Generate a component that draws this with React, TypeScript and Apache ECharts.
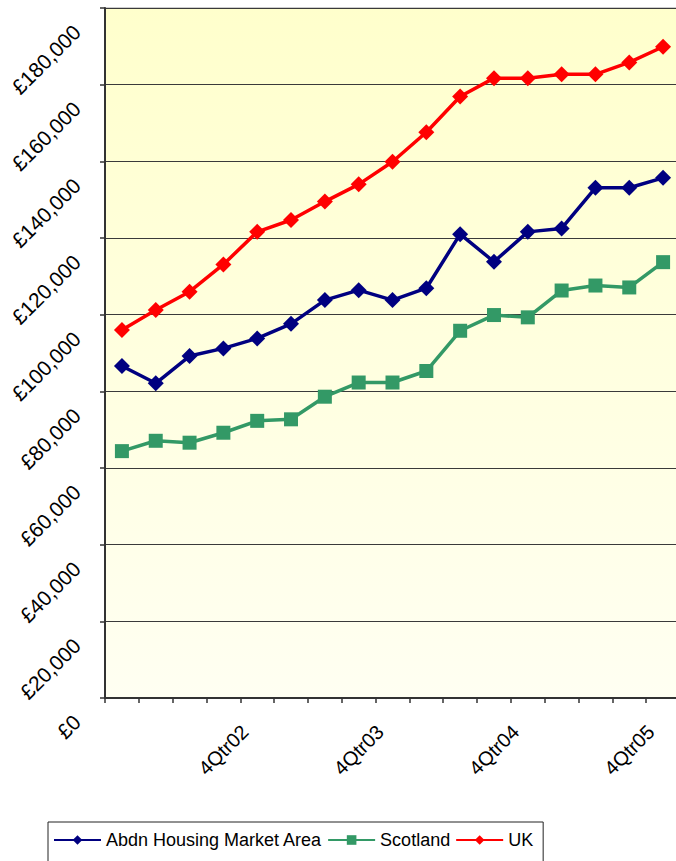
import React, { useEffect, useRef } from "react";
import * as echarts from "echarts";

const categories = [
  "1Qtr02", "2Qtr02", "3Qtr02", "4Qtr02",
  "1Qtr03", "2Qtr03", "3Qtr03", "4Qtr03",
  "1Qtr04", "2Qtr04", "3Qtr04", "4Qtr04",
  "1Qtr05", "2Qtr05", "3Qtr05", "4Qtr05",
  "1Qtr06",
];

const abdn = [86600, 82100, 89200, 91200, 93800, 97600, 103800, 106400, 103800, 106900, 121000, 113800, 121600, 122500, 133100, 133100, 135700];
const scotland = [64400, 67100, 66600, 69200, 72300, 72700, 78600, 82300, 82300, 85300, 95800, 99900, 99300, 106300, 107600, 107100, 113700];
const uk = [96000, 101200, 106000, 113100, 121600, 124700, 129500, 134000, 139900, 147600, 156900, 161700, 161700, 162700, 162700, 165800, 169900];

const seriesNames = ["Abdn Housing Market Area", "Scotland", "UK"];

const FONT = "'Liberation Sans', Arial, sans-serif";

export default function App() {
  const ref = useRef<HTMLDivElement>(null);

  useEffect(() => {
    if (!ref.current) return;
    const chart = echarts.init(ref.current, null, { renderer: "svg" });
    const mk = (name: string, data: number[], color: string, symbol: string, size: number) => ({
      name,
      type: "line",
      data,
      symbol,
      symbolSize: size,
      showSymbol: true,
      lineStyle: { color, width: 3.5 },
      itemStyle: { color },
      emphasis: { disabled: true },
    });
    chart.setOption({
      animation: false,
      backgroundColor: "#ffffff",
      textStyle: { fontFamily: FONT },
      grid: {
        left: 105,
        top: 8,
        width: 575,
        height: 690,
        show: true,
        borderColor: "#9a9a9a",
        borderWidth: 1,
        backgroundColor: new echarts.graphic.LinearGradient(0, 0, 0, 1, [
          { offset: 0, color: "#FFFFCC" },
          { offset: 1, color: "#FFFFF2" },
        ]),
        containLabel: false,
        outerBoundsMode: "none",
      },
      legend: {
        left: 48,
        top: 822,
        orient: "horizontal",
        data: seriesNames,
        itemWidth: 47,
        itemHeight: 12,
        itemGap: 5,
        padding: [9, 10, 40, 5],
        borderColor: "#222",
        borderWidth: 1,
        textStyle: { fontFamily: FONT, fontSize: 18, color: "#000" },
      },
      xAxis: {
        type: "category",
        data: categories,
        boundaryGap: true,
        axisLine: { show: true, lineStyle: { color: "#333", width: 2 } },
        axisTick: { show: true, interval: 0, length: 5, lineStyle: { color: "#333", width: 1.5 } },
        splitLine: { show: false },
        axisLabel: {
          interval: (index: number) => index % 4 === 3,
          rotate: 45,
          align: "center",
          verticalAlign: "middle",
          margin: 52,
          fontFamily: FONT,
          fontSize: 20,
          color: "#000",
        },
      },
      yAxis: {
        type: "value",
        min: 0,
        max: 180000,
        interval: 20000,
        axisLine: { show: true, lineStyle: { color: "#333", width: 2 } },
        axisTick: { show: true, length: 5, lineStyle: { color: "#333", width: 1.5 } },
        splitLine: { show: true, lineStyle: { color: "#3a3a3a", width: 1 } },
        axisLabel: {
          rotate: 45,
          align: "right",
          verticalAlign: "top",
          margin: 28,
          lineHeight: 21,
          padding: [4, 14.5, 0, 0],
          fontFamily: FONT,
          fontSize: 21,
          color: "#000",
          formatter: (v: number) => "£" + v.toLocaleString("en-GB"),
        },
      },
      series: [
        mk(seriesNames[0], abdn, "#000080", "diamond", 16),
        mk(seriesNames[1], scotland, "#339966", "rect", 14),
        mk(seriesNames[2], uk, "#FF0000", "diamond", 16),
      ],
    });
    return () => chart.dispose();
  }, []);

  return (
    <div style={{ position: "fixed", left: 0, top: 0, width: 676, height: 861, overflow: "hidden", background: "#fff" }}>
      <div ref={ref} style={{ width: 690, height: 861 }} />
    </div>
  );
}
